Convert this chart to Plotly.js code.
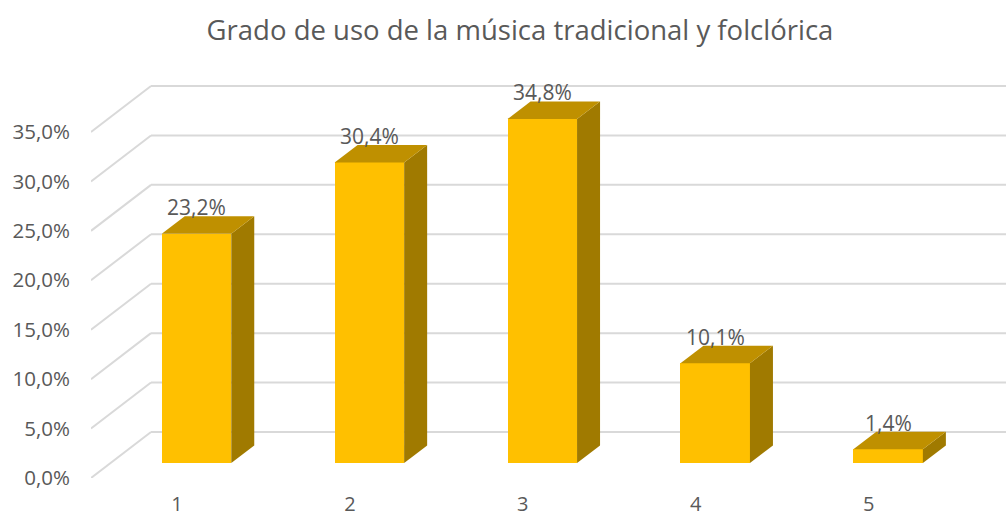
<!DOCTYPE html>
<html><head><meta charset="utf-8">
<script src="https://cdn.plot.ly/plotly-3.0.1.min.js"></script>
<style>html,body{margin:0;padding:0;background:#fff}#chart{width:1006px;height:516px}</style>
</head><body><div id="chart"></div>
<script>
// ---- data ----
const categories = ['1', '2', '3', '4', '5'];
const values = [23.2, 30.4, 34.8, 10.1, 1.4];
const valueLabels = ['23,2%', '30,4%', '34,8%', '10,1%', '1,4%'];
const yTicks = [0, 5, 10, 15, 20, 25, 30, 35];
const yTickLabels = ['0,0%', '5,0%', '10,0%', '15,0%', '20,0%', '25,0%', '30,0%', '35,0%'];
const titleText = 'Grado de uso de la música tradicional y folclórica';

// ---- geometry / style ----
const W = 1006, H = 516;
const M = {l: 91, r: 0, t: 60, b: 38};
const PXU = 172.9;   // px per category unit
const PXP = 9.886;   // px per percent
const xmin = 1 - 86 / PXU;
const xmax = xmin + (W - M.l - M.r) / PXU;
const ymax = (H - M.t - M.b) / PXP;
const WDX = 60 / PXU, WDY = 46 / PXP;      // wall depth
const BX = 19.5 / PXU, BY = 15 / PXP;     // bar plane offset
const BW = 69.5 / PXU;                     // bar width
const DDX = 23 / PXU, DDY = 17.5 / PXP;   // bar depth
const FRONT = '#FFC000', TOP = '#BF9000', SIDE = '#A07A00';
const GRID = '#D9D9D9', TXT = '#595959';
const FONT = 'Open Sans, sans-serif';

const xpos = categories.map((c, i) => i + 1);

// wall gridlines (shapes, below traces)
const shapes = [];
yTicks.forEach(v => {
  shapes.push({type: 'line', xref: 'x', yref: 'y', layer: 'below',
    x0: xmin, y0: v, x1: xmin + WDX, y1: v + WDY, line: {color: GRID, width: 2}});
  shapes.push({type: 'line', xref: 'x', yref: 'y', layer: 'below',
    x0: xmin + WDX, y0: v + WDY, x1: xmax + 1, y1: v + WDY, line: {color: GRID, width: 2}});
});

const traces = [];
traces.push({
  type: 'bar', x: xpos.map(x => x + BX), y: values, base: BY, width: BW,
  marker: {color: FRONT, line: {width: 0}}, hoverinfo: 'skip', showlegend: false
});
values.forEach((v, i) => {
  const cx = xpos[i] + BX, x0 = cx - BW / 2, x1 = cx + BW / 2, top = BY + v;
  traces.push({type: 'scatter', mode: 'lines', fill: 'toself', fillcolor: SIDE,
    x: [x1, x1 + DDX, x1 + DDX, x1, x1], y: [BY, BY + DDY, top + DDY, top, BY],
    line: {width: 0, color: SIDE}, hoverinfo: 'skip', showlegend: false});
  traces.push({type: 'scatter', mode: 'lines', fill: 'toself', fillcolor: TOP,
    x: [x0, x1, x1 + DDX, x0 + DDX, x0], y: [top, top, top + DDY, top + DDY, top],
    line: {width: 0, color: TOP}, hoverinfo: 'skip', showlegend: false});
});

const annotations = values.map((v, i) => ({
  x: xpos[i] + BX, y: BY + v + DDY, xref: 'x', yref: 'y',
  text: valueLabels[i], showarrow: false, yanchor: 'middle', yshift: 9,
  font: {family: FONT, size: 21, color: TXT}
}));

const layout = {
  width: W, height: H, margin: M,
  paper_bgcolor: '#fff', plot_bgcolor: 'rgba(0,0,0,0)',
  title: {text: titleText, font: {family: FONT, size: 27.5, color: TXT},
    xref: 'container', x: 520 / W, xanchor: 'center', yref: 'container', y: 1 - 30 / H, yanchor: 'middle'},
  xaxis: {range: [xmin, xmax], tickvals: xpos, ticktext: categories, showgrid: false,
    zeroline: false, showline: false, ticks: '', ticklabelstandoff: 12,
    tickfont: {family: FONT, size: 20, color: TXT}, fixedrange: true},
  yaxis: {range: [0, ymax], tickvals: yTicks, ticktext: yTickLabels, showgrid: false,
    zeroline: false, showline: false, ticks: '', ticklabelstandoff: 20,
    tickfont: {family: FONT, size: 20.5, color: TXT}, fixedrange: true},
  shapes: shapes, annotations: annotations, showlegend: false, bargap: 0
};
Plotly.newPlot('chart', traces, layout, {displayModeBar: false, staticPlot: true});
</script></body></html>
